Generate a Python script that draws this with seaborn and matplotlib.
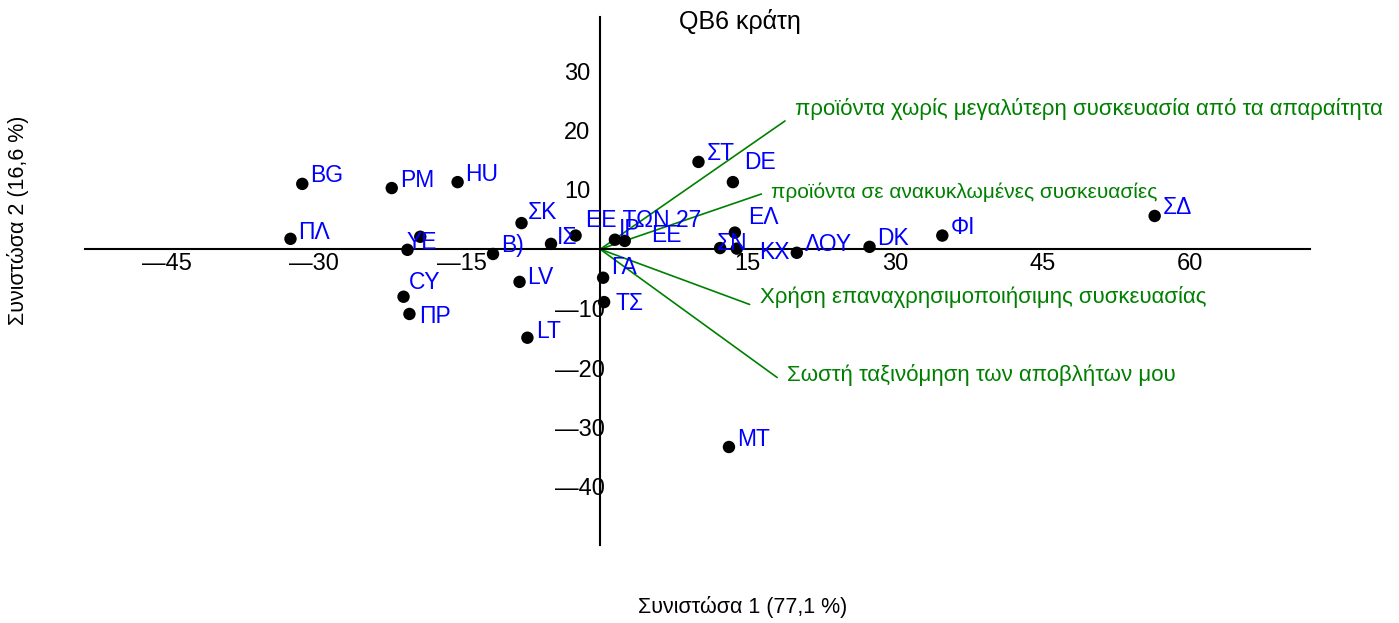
import matplotlib
matplotlib.use("Agg")
import matplotlib.pyplot as plt
from matplotlib.transforms import ScaledTranslation
import seaborn as sns
import pandas as pd

# κράτη (σκορ στις δύο πρώτες συνιστώσες)
labels = ["BG", "PM", "HU", "ΠΛ", "", "ΥΕ", "Β)", "ΣΚ", "ΙΣ", "ΕΕ ΤΩΝ 27",
          "ΙΡ", "ΕΕ", "ΓΑ", "ΤΣ", "LV", "CY", "ΠΡ", "LT", "ΣΤ", "DE",
          "ΕΛ", "ΣΝ", "ΚΧ", "ΛΟΥ", "DK", "ΦΙ", "ΣΔ", "MT"]
pc1 = [-30.3, -21.2, -14.5, -31.5, -18.3, -19.6, -10.9, -8.0, -5.0, -2.5,
       1.5, 2.5, 0.3, 0.4, -8.2, -20.0, -19.4, -7.4, 10.0, 13.5,
       13.7, 12.2, 13.9, 20.0, 27.4, 34.8, 56.4, 13.1]
pc2 = [11.0, 10.3, 11.3, 1.75, 2.1, -0.1, -0.8, 4.4, 0.9, 2.3,
       1.6, 1.4, -4.8, -8.9, -5.5, -8.0, -10.9, -14.9, 14.7, 11.3,
       2.8, 0.2, 0.1, -0.6, 0.4, 2.3, 5.6, -33.3]

# μεταβλητές (φορτίσεις)
var_names = ["προϊόντα χωρίς μεγαλύτερη συσκευασία από τα απαραίτητα",
             "προϊόντα σε ανακυκλωμένες συσκευασίες",
             "Χρήση επαναχρησιμοποιήσιμης συσκευασίας",
             "Σωστή ταξινόμηση των αποβλήτων μου"]
var_x = [18.8, 16.4, 15.2, 18.0]
var_y = [21.6, 9.3, -9.3, -21.6]

xticks = [-45, -30, -15, 15, 30, 45, 60]
yticks = [-40, -30, -20, -10, 10, 20, 30]

df = pd.DataFrame({"label": labels, "pc1": pc1, "pc2": pc2})

sns.set_style("white")
plt.rcParams["font.family"] = ["Liberation Sans", "DejaVu Sans"]
plt.rcParams["text.color"] = "black"

fig = plt.figure(figsize=(13.99, 6.23), dpi=100)
ax = fig.add_axes([85 / 1399, 78 / 623, 1225 / 1399, 528 / 623])

# μετατοπίσεις ετικετών σε pixels (όπου οι ετικέτες έχουν σπρωχτεί)
nudge = {"ΥΕ": (-1, 7), "ΣΝ": (-3, 5), "ΚΧ": (22, -4), "ΠΡ": (10, -3),
         "ΤΣ": (11, -1), "DE": (11, 20), "ΕΛ": (13, 15), "ΕΕ ΤΩΝ 27": (10, 15),
         "ΙΡ": (4, 10), "ΕΕ": (26, 5), "ΙΣ": (6, 6), "ΣΚ": (6, 11),
         "CY": (5, 14), "LV": (8, 4), "LT": (9, 6), "ΓΑ": (8, 10),
         "ΠΛ": (8, 6)}
var_nudge = [(10, 12), (10, 2), (10, 7), (10, 3)]
var_fs = [16, 15, 16, 16]

for vx, vy, name, off, fs in zip(var_x, var_y, var_names, var_nudge, var_fs):
    ax.plot([0, vx], [0, vy], color="#008000", lw=1.2, zorder=2)
    ax.annotate(name, (vx, vy), xytext=off, textcoords="offset pixels",
                color="#008000", fontsize=fs, ha="left", va="center")

sns.scatterplot(data=df, x="pc1", y="pc2", color="black", s=80,
                edgecolor="none", ax=ax, zorder=3)
for _, r in df.iterrows():
    off = nudge.get(r["label"], (8, 8))
    ax.annotate(r["label"], (r["pc1"], r["pc2"]), xytext=off,
                textcoords="offset pixels", color="#0000FF", fontsize=16.5,
                ha="left", va="center", zorder=4)

ax.set_xlim(-52.4, 72.2)
ax.set_ylim(-49.8, 39.1)
for s in ["top", "right"]:
    ax.spines[s].set_visible(False)
ax.spines["left"].set_position(("data", 0))
ax.spines["bottom"].set_position(("data", 0))
for s in ["left", "bottom"]:
    ax.spines[s].set_linewidth(1.5)
    ax.spines[s].set_color("black")

ax.set_xticks(xticks)
ax.set_xticklabels([("—" + str(-t)) if t < 0 else str(t) for t in xticks])
ax.set_yticks(yticks)
ax.set_yticklabels([("—" + str(-t)) if t < 0 else str(t) for t in yticks])
ax.tick_params(axis="both", direction="out", length=6, width=1, labelsize=17,
               colors="black")
ax.tick_params(axis="x", pad=-3)
ax.tick_params(axis="y", pad=1)

for t, lab in zip(xticks, ax.get_xticklabels()):
    if t < 0:
        lab.set_transform(lab.get_transform() + ScaledTranslation(9 / 100, 0, fig.dpi_scale_trans))
for t, lab in zip(yticks, ax.get_yticklabels()):
    if t < 0:
        lab.set_transform(lab.get_transform() + ScaledTranslation(14 / 100, 0, fig.dpi_scale_trans))

ax.set_xlabel("")
ax.set_ylabel("")
fig.text(740 / 1399, 1 - 22 / 623, "QB6 κράτη", ha="center", va="center", fontsize=18)
fig.text(743 / 1399, 1 - 607 / 623, "Συνιστώσα 1 (77,1 %)", ha="center", va="center", fontsize=15.5)
fig.text(18 / 1399, 1 - 220 / 623, "Συνιστώσα 2 (16,6 %)", ha="center", va="center",
         rotation=90, fontsize=15.5)

fig.savefig("out.png", dpi=100)
